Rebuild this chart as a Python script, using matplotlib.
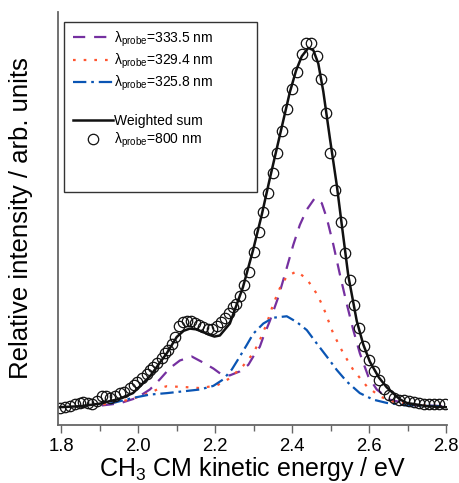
import numpy as np
import matplotlib
matplotlib.use('Agg')
import matplotlib.pyplot as plt
from matplotlib.lines import Line2D
from matplotlib.patches import Rectangle

plt.rcParams['font.family'] = ['Liberation Sans', 'DejaVu Sans']
plt.rcParams['mathtext.fontset'] = 'custom'
plt.rcParams['mathtext.rm'] = 'Liberation Sans'
plt.rcParams['mathtext.it'] = 'Liberation Sans:italic'

# measured data, lambda_probe = 800 nm (open circles)
e_800 = [1.796, 1.809, 1.822, 1.835, 1.848, 1.857, 1.870, 1.879, 1.892, 1.905,
         1.916, 1.926, 1.939, 1.952, 1.963, 1.978, 1.989, 1.997, 2.009, 2.022,
         2.030, 2.039, 2.049, 2.061, 2.069, 2.078, 2.087, 2.095, 2.107, 2.116,
         2.126, 2.137, 2.147, 2.158, 2.169, 2.180, 2.192, 2.204, 2.214, 2.225,
         2.236, 2.247, 2.255, 2.264, 2.275, 2.288, 2.301, 2.314, 2.325, 2.337,
         2.349, 2.361, 2.374, 2.387, 2.399, 2.412, 2.425, 2.436, 2.449, 2.464,
         2.474, 2.487, 2.499, 2.511, 2.526, 2.537, 2.550, 2.561, 2.575, 2.587,
         2.600, 2.613, 2.627, 2.640, 2.653, 2.666, 2.679, 2.691, 2.705, 2.718,
         2.731, 2.744, 2.757, 2.770, 2.783, 2.797]
i_800 = [-0.005, -0.002, 0.000, 0.005, 0.009, 0.012, 0.009, 0.005, 0.014, 0.029,
         0.027, 0.022, 0.027, 0.035, 0.040, 0.050, 0.059, 0.068, 0.077, 0.089,
         0.100, 0.109, 0.120, 0.132, 0.146, 0.155, 0.171, 0.191, 0.221, 0.231,
         0.235, 0.235, 0.230, 0.223, 0.219, 0.214, 0.214, 0.220, 0.231, 0.243,
         0.257, 0.273, 0.283, 0.303, 0.333, 0.370, 0.425, 0.481, 0.535, 0.589,
         0.642, 0.697, 0.760, 0.820, 0.874, 0.921, 0.970, 1.002, 1.002, 0.967,
         0.903, 0.810, 0.699, 0.597, 0.508, 0.423, 0.348, 0.278, 0.217, 0.166,
         0.128, 0.098, 0.071, 0.047, 0.032, 0.023, 0.018, 0.016, 0.014, 0.012,
         0.009, 0.007, 0.005, 0.005, 0.005, 0.007]

# weighted sum of the three UV probe spectra
e_sum = [1.790, 1.850, 1.900, 1.950, 1.986, 2.030, 2.074, 2.100, 2.118, 2.134,
         2.150, 2.168, 2.184, 2.198, 2.212, 2.238, 2.272, 2.298, 2.321, 2.342,
         2.368, 2.394, 2.410, 2.425, 2.442, 2.455, 2.468, 2.481, 2.498, 2.516,
         2.529, 2.546, 2.568, 2.585, 2.602, 2.625, 2.646, 2.680, 2.698, 2.750,
         2.802]
i_sum = [-0.003, 0.000, 0.007, 0.020, 0.036, 0.082, 0.146, 0.191, 0.208, 0.214,
         0.212, 0.205, 0.197, 0.192, 0.195, 0.228, 0.328, 0.429, 0.528, 0.628,
         0.747, 0.866, 0.925, 0.965, 0.988, 0.982, 0.945, 0.868, 0.740, 0.610,
         0.501, 0.360, 0.235, 0.170, 0.123, 0.080, 0.052, 0.019, 0.009, 0.000,
         -0.003]

# lambda_probe = 333.5 nm
e_3335 = [1.905, 1.952, 1.996, 2.030, 2.056, 2.082, 2.108, 2.139, 2.169, 2.195,
          2.217, 2.238, 2.264, 2.286, 2.299, 2.316, 2.325, 2.342, 2.364, 2.381,
          2.403, 2.420, 2.438, 2.459, 2.477, 2.490, 2.507, 2.524, 2.542, 2.559,
          2.576, 2.598, 2.620, 2.654, 2.714, 2.797]
i_3335 = [0.002, 0.008, 0.023, 0.046, 0.074, 0.105, 0.126, 0.137, 0.120, 0.104,
          0.087, 0.085, 0.096, 0.114, 0.137, 0.164, 0.191, 0.235, 0.301, 0.363,
          0.445, 0.500, 0.542, 0.574, 0.560, 0.519, 0.446, 0.364, 0.282, 0.210,
          0.146, 0.082, 0.046, 0.018, 0.003, 0.000]

# lambda_probe = 329.4 nm
e_3294 = [1.909, 1.978, 2.030, 2.056, 2.074, 2.117, 2.160, 2.204, 2.238, 2.273,
          2.299, 2.316, 2.334, 2.351, 2.369, 2.386, 2.412, 2.438, 2.464, 2.481,
          2.507, 2.533, 2.559, 2.594, 2.628, 2.663, 2.732, 2.797]
i_3294 = [0.005, 0.018, 0.036, 0.050, 0.055, 0.053, 0.050, 0.057, 0.077, 0.112,
          0.146, 0.182, 0.228, 0.282, 0.328, 0.358, 0.372, 0.351, 0.310, 0.273,
          0.200, 0.146, 0.100, 0.055, 0.027, 0.012, 0.003, 0.000]

# lambda_probe = 325.8 nm
e_3258 = [1.926, 1.987, 2.030, 2.074, 2.117, 2.160, 2.195, 2.221, 2.243, 2.264,
          2.282, 2.299, 2.325, 2.351, 2.386, 2.412, 2.438, 2.464, 2.490, 2.516,
          2.542, 2.576, 2.611, 2.646, 2.698, 2.797]
i_3258 = [0.007, 0.023, 0.032, 0.036, 0.041, 0.046, 0.056, 0.074, 0.101, 0.137,
          0.169, 0.200, 0.228, 0.244, 0.248, 0.232, 0.210, 0.173, 0.137, 0.100,
          0.068, 0.036, 0.018, 0.009, 0.002, 0.000]

x_ticks = [1.8, 2.0, 2.2, 2.4, 2.6, 2.8]

c_purple = '#7530a0'
c_red = '#ff5530'
c_blue = '#0a55b4'

fig = plt.figure(figsize=(4.6, 4.83), dpi=100)
ax = fig.add_axes([0.126, 0.12, 0.846, 0.855])

l1, = ax.plot(e_3335, i_3335, color=c_purple, lw=1.6, dashes=(5.5, 4))
l2, = ax.plot(e_3294, i_3294, color=c_red, lw=1.6, dashes=(1.2, 3.6))
l3, = ax.plot(e_3258, i_3258, color=c_blue, lw=1.6, dashes=(6, 2.2, 1.2, 2.2))
l4, = ax.plot(e_sum, i_sum, color='#111111', lw=1.8)
l5, = ax.plot(e_800, i_800, 'o', mfc='none', mec='#111111', ms=7.5, mew=0.9)

ax.set_xlim(1.791, 2.803)
ax.set_ylim(-0.052, 1.087)
ax.set_xticks(x_ticks)
ax.set_xticklabels([f'{t:.1f}' for t in x_ticks])
ax.set_xticks(np.arange(1.9, 2.8, 0.2), minor=True)
ax.set_yticks([])
for s in ['top', 'right']:
    ax.spines[s].set_visible(False)
for s in ['left', 'bottom']:
    ax.spines[s].set_color('#666666')
    ax.spines[s].set_linewidth(1.3)
ax.tick_params(axis='x', which='major', direction='out', length=6, width=1,
               color='#666666', labelsize=13.3, pad=3.5)
ax.tick_params(axis='x', which='minor', direction='out', length=4, width=1,
               color='#666666')

ax.set_xlabel('CH$_3$ CM kinetic energy / eV', fontsize=18, labelpad=0)
ax.set_ylabel('Relative intensity / arb. units', fontsize=18.5, labelpad=18)

# legend box
ax.add_patch(Rectangle((0.0154, 0.5635), 0.4962, 0.4125, transform=ax.transAxes,
                       fill=False, ec='#333333', lw=1.0, zorder=5))
blank = Line2D([], [], color='none')
handles = [l1, l2, l3, blank, l4, l5]
labels = ['λ${}_{\\mathrm{probe}}$=333.5 nm',
          'λ${}_{\\mathrm{probe}}$=329.4 nm',
          'λ${}_{\\mathrm{probe}}$=325.8 nm',
          '',
          'Weighted sum',
          'λ${}_{\\mathrm{probe}}$=800 nm']
leg = ax.legend(handles, labels, loc='upper left', bbox_to_anchor=(0.038, 0.958),
                frameon=False, fontsize=10, handlelength=2.9, handletextpad=0.05,
                labelspacing=0.22, borderpad=0, borderaxespad=0, numpoints=1)

fig.savefig('out.png', dpi=100)
